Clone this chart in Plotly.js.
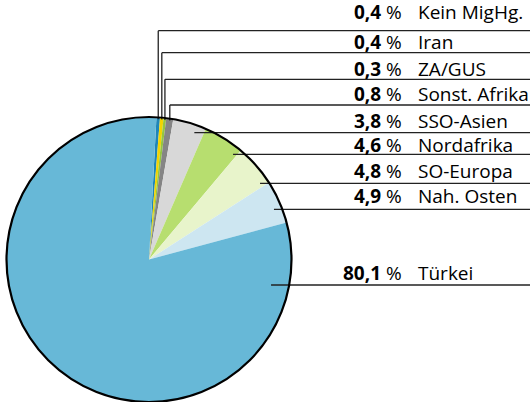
<!DOCTYPE html>
<html>
<head>
<meta charset="utf-8">
<script src="https://cdn.plot.ly/plotly-3.0.1.min.js"></script>
<style>html,body{margin:0;padding:0;background:#fff;}#chart{width:530px;height:402px;}</style>
</head>
<body>
<div id="chart"></div>
<script>
// ---- data ----
const labels = ['Kein MigHg.', 'Iran', 'ZA/GUS', 'Sonst. Afrika', 'SSO-Asien', 'Nordafrika', 'SO-Europa', 'Nah. Osten', 'Türkei'];
const values = [0.4, 0.4, 0.3, 0.8, 3.8, 4.6, 4.8, 4.9, 80.1];
const valueTexts = ['0,4', '0,4', '0,3', '0,8', '3,8', '4,6', '4,8', '4,9', '80,1'];
const colors = ['#1f86b8', '#f2d400', '#93c640', '#858585', '#d8d8d8', '#b7de6f', '#e8f4cb', '#cde6f1', '#67b8d7'];

// ---- layout constants (pixels) ----
const W = 530, H = 402;
const cx = 149, cy = 259.5, R = 142.5;
const rot = 3;
const rowBaselines = [17.5, 48.3, 75, 100, 126.7, 150.7, 176.7, 201.7, 279.3];
const rowLines = [30.7, 52.7, 79.3, 105, 132.7, 154.3, 183.3, 209.3, 285];
const FS = 19;
const FONT = 'Open Sans';

const px = x => x / W;
const py = y => 1 - y / H;

const total = values.reduce((a, b) => a + b, 0);
const shapes = [];
const annotations = [];
const lineStyle = {color: '#222', width: 1.3};

let cum = 0;
values.forEach((v, i) => {
  const mid = (rot + (cum + v / 2) / total * 360) * Math.PI / 180;
  cum += v;
  const ly = rowLines[i];
  if (i < 4) {
    const x = cx + R * Math.sin(mid);
    const yEdge = cy - R * Math.cos(mid);
    shapes.push({type: 'line', xref: 'paper', yref: 'paper', x0: px(x), x1: px(x), y0: py(yEdge + 2), y1: py(ly), line: lineStyle});
    shapes.push({type: 'line', xref: 'paper', yref: 'paper', x0: px(x), x1: px(W), y0: py(ly), y1: py(ly), line: lineStyle});
  } else {
    const k = i === 8 ? 0.875 : 0.945;
    const dy = ly - cy;
    const x = cx + Math.sqrt(Math.max(0, (k * R) ** 2 - dy * dy));
    shapes.push({type: 'line', xref: 'paper', yref: 'paper', x0: px(x), x1: px(W), y0: py(ly), y1: py(ly), line: lineStyle});
  }
  const yc = rowBaselines[i] - 18 * 0.33;
  annotations.push({xref: 'paper', yref: 'paper', x: px(404), y: py(yc), xanchor: 'right', yanchor: 'middle',
    text: '<b>' + valueTexts[i] + '</b> %', showarrow: false, font: {family: FONT, size: FS, color: '#000'}});
  annotations.push({xref: 'paper', yref: 'paper', x: px(416), y: py(yc), xanchor: 'left', yanchor: 'middle',
    text: labels[i], showarrow: false, font: {family: FONT, size: FS, color: '#000'}});
});

// pie outline
shapes.push({type: 'circle', xref: 'paper', yref: 'paper', x0: px(cx - R), x1: px(cx + R), y0: py(cy + R), y1: py(cy - R), line: {color: '#000', width: 2.2}});

const trace = {
  type: 'pie',
  labels: labels,
  values: values,
  sort: false,
  direction: 'clockwise',
  rotation: rot,
  textinfo: 'none',
  hoverinfo: 'label+percent',
  marker: {colors: colors, line: {width: 0}},
  domain: {x: [px(cx - R), px(cx + R)], y: [py(cy + R), py(cy - R)]},
  showlegend: false
};

const layout = {
  width: W, height: H,
  margin: {l: 0, r: 0, t: 0, b: 0},
  paper_bgcolor: '#fff',
  showlegend: false,
  shapes: shapes,
  annotations: annotations
};

Plotly.newPlot('chart', [trace], layout, {displayModeBar: false, staticPlot: true});
</script>
</body>
</html>
